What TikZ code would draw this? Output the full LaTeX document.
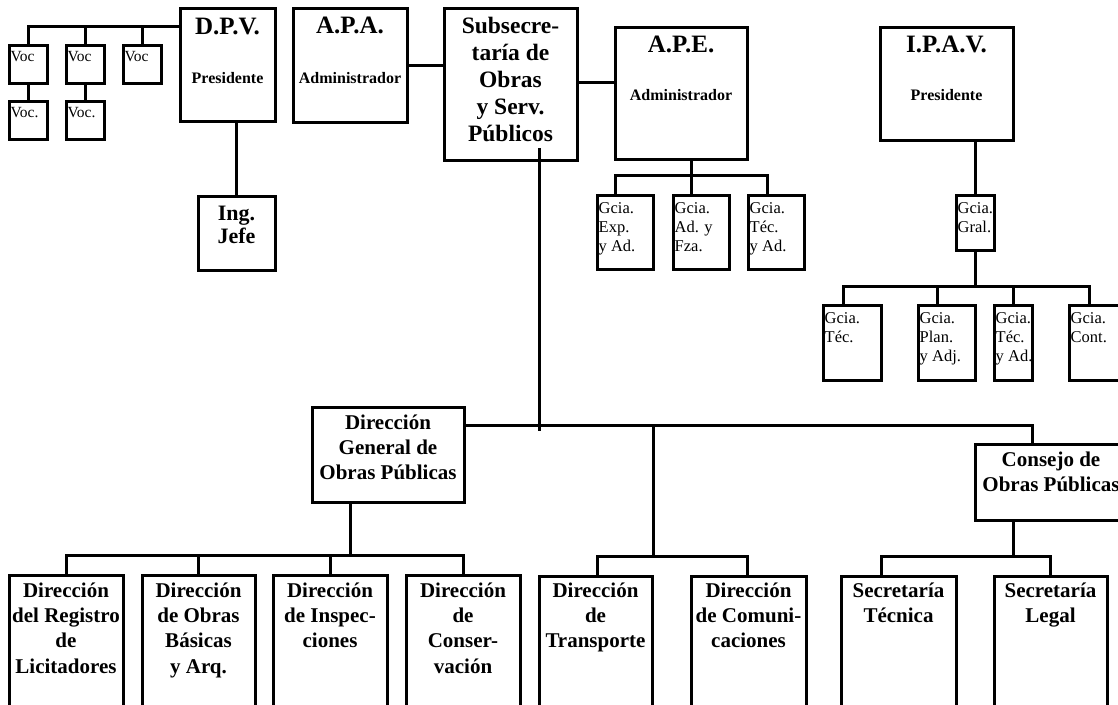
\documentclass[tikz,border=0pt]{standalone}
\usepackage{fontspec}
\setmainfont{Liberation Serif}
\tikzset{
  box/.style={draw, rectangle, line width=3pt, inner sep=0pt, outer sep=0pt},
  con/.style={line width=3pt},
  ttl/.style={font=\bfseries\fontsize{25}{27}\selectfont, align=center, inner sep=0pt, anchor=north, yshift=25pt},
  big/.style={font=\bfseries\fontsize{23.5}{27}\selectfont, align=center, inner sep=0pt, anchor=north, yshift=23.5pt},
  jef/.style={font=\bfseries\fontsize{22}{23.5}\selectfont, align=center, inner sep=0pt, anchor=north, yshift=22pt},
  mid/.style={font=\bfseries\fontsize{16}{19}\selectfont, align=center, inner sep=0pt, anchor=north, yshift=16pt},
  dir/.style={font=\bfseries\fontsize{21}{25.3}\selectfont, align=center, inner sep=0pt, anchor=north, yshift=21pt},
  sm/.style={font=\fontsize{16.5}{19}\selectfont, align=left, inner sep=0pt, anchor=north west, yshift=16.5pt},
  vc/.style={font=\fontsize{15.5}{17}\selectfont, align=left, inner sep=0pt, anchor=north west, yshift=15.5pt}
}
\newcommand{\orgbox}[5]{\node[box, minimum width={(#4)-(#2)}, minimum height={(#5)-(#3)}] (#1) at ({((#2)+(#4))/2},{((#3)+(#5))/2}) {};}
\newcommand{\tx}[5]{\node[#2] (#1) at (#3,#4) {\rule{0pt}{1em}#5};}
\begin{document}
\begin{tikzpicture}[x=1pt,y=-1pt]
\useasboundingbox (0,0) rectangle (1118,704);
\clip (0,0) rectangle (1118,704);
% boxes
\orgbox{v1}{9}{45}{47}{83}
\orgbox{v2}{66}{45}{104}{83}
\orgbox{v3}{123}{45}{161}{83}
\orgbox{v4}{9}{101}{47}{139}
\orgbox{v5}{66}{101}{104}{139}
\orgbox{dpv}{180}{8}{275}{121}
\orgbox{jefe}{198}{196}{275}{270}
\orgbox{apa}{293}{8}{407}{122}
\orgbox{sub}{444}{8}{577}{160}
\orgbox{ape}{615}{27}{747}{159}
\orgbox{g1}{597}{195}{653}{269}
\orgbox{g2}{673}{195}{729}{269}
\orgbox{g3}{748}{195}{804}{269}
\orgbox{ipav}{880}{27}{1013}{140}
\orgbox{gral}{956}{195}{994}{250}
\orgbox{i1}{823}{305}{881}{380}
\orgbox{i2}{918}{305}{975}{380}
\orgbox{i3}{994}{305}{1032}{380}
\orgbox{i4}{1069}{305}{1127}{380}
\orgbox{dgop}{312}{407}{464}{502}
\orgbox{cons}{975}{444}{1127}{520}
\orgbox{d1}{9}{575}{123}{715}
\orgbox{d2}{142}{575}{255}{715}
\orgbox{d3}{273}{575}{387}{715}
\orgbox{d4}{406}{575}{520}{715}
\orgbox{dt}{539}{576}{652}{715}
\orgbox{dc}{691}{576}{806}{715}
\orgbox{st}{841}{576}{956}{715}
\orgbox{sl}{994}{576}{1107}{715}
% connectors
\coordinate (vbus) at (28,26);
\draw[con] (v1.north) -- (vbus) -- (vbus -| dpv.west);
\draw[con] (v2.north) -- (v2.north |- vbus);
\draw[con] (v3.north) -- (v3.north |- vbus);
\draw[con] (v1.south) -- (v4.north);
\draw[con] (v2.south) -- (v5.north);
\draw[con] (jefe.north) -- (jefe.north |- dpv.south);
\draw[con] (apa.east) -- (apa.east -| sub.west);
\draw[con] ([yshift=2pt]sub.east) -- ([yshift=2pt]sub.east -| ape.west);
\coordinate (sv) at (539,148);
\coordinate (svb) at (539,431);
\draw[con] (sv) -- (svb);
\coordinate (cj) at (1032,425);
\draw[con] (dgop.east |- cj) -- (cj) -- (cj |- cons.north);
\coordinate (tb) at (653,556);
\draw[con] (tb |- cj) -- (tb);
\draw[con] ([xshift=1.5pt]dt.north) -- ++(0,-20) -| ([xshift=-1.5pt]dc.north);
\coordinate (dg) at (350,555);
\draw[con] (dg |- dgop.south) -- (dg);
\draw[con] (d1.north) -- ++(0,-20) -| (d4.north);
\draw[con] (d2.north) -- ++(0,-20);
\draw[con] (d3.north) -- ++(0,-20);
\coordinate (cd) at (1013,556);
\draw[con] (cd |- cons.south) -- (cd);
\draw[con] ([xshift=-17.5pt]st.north) -- ++(0,-20) -| ([xshift=-0.5pt]sl.north);
\coordinate (ad) at (691,175);
\draw[con] (ad |- ape.south) -- (ad);
\draw[con] ([xshift=18pt]g1.north west) -- ++(0,-20) -| ([xshift=19pt]g3.north west);
\draw[con] ([xshift=18pt]g2.north west) -- ++(0,-20);
\draw[con] (gral.north) -- (gral.north |- ipav.south);
\coordinate (ib) at (975,286);
\draw[con] (gral.south) -- (ib);
\draw[con] ([xshift=20pt]i1.north west) -- ++(0,-19) -| ([xshift=20pt]i4.north west);
\draw[con] ([xshift=19pt]i2.north west) -- ++(0,-19);
\draw[con] ([xshift=19pt]i3.north west) -- ++(0,-19);
% texts
\tx{v1t}{vc}{10.5}{61}{Voc}
\tx{v2t}{vc}{67.5}{61}{Voc}
\tx{v3t}{vc}{124.5}{61}{Voc}
\tx{v4t}{vc}{10.5}{117}{Voc.}
\tx{v5t}{vc}{67.5}{117}{Voc.}
\tx{dpvt}{ttl}{227.5}{34}{D.P.V.}
\tx{dpvp}{mid}{227.5}{83}{Presidente}
\tx{jefet}{jef}{236.5}{220}{Ing.\\Jefe}
\tx{apat}{ttl}{350}{33}{A.P.A.}
\tx{apaa}{mid}{350}{83}{Administrador}
\tx{subt}{big}{510.5}{33}{Subsecre-\\taría de\\Obras\\y Serv.\\Públicos}
\tx{apet}{ttl}{681}{52}{A.P.E.}
\tx{apea}{mid}{681}{100}{Administrador}
\tx{g1t}{sm}{598.5}{213}{Gcia.\\Exp.\\y Ad.}
\tx{g2t}{sm}{674.5}{213}{Gcia.\\Ad. y\\Fza.}
\tx{g3t}{sm}{749.5}{213}{Gcia.\\Téc.\\y Ad.}
\tx{ipavt}{ttl}{946.5}{52}{I.P.A.V.}
\tx{ipavp}{mid}{946.5}{100}{Presidente}
\tx{gralt}{sm}{957.5}{213}{Gcia.\\Gral.}
\tx{i1t}{sm}{824.5}{323}{Gcia.\\Téc.}
\tx{i2t}{sm}{919.5}{323}{Gcia.\\Plan.\\y Adj.}
\tx{i3t}{sm}{995.5}{323}{Gcia.\\Téc.\\y Ad.}
\tx{i4t}{sm}{1070.5}{323}{Gcia.\\Cont.}
\tx{dgopt}{dir}{388}{429}{Dirección\\General de\\Obras Públicas}
\tx{const}{dir}{1051}{466}{Consejo de\\Obras Públicas}
\tx{d1t}{dir}{66}{597}{Dirección\\del Registro\\de\\Licitadores}
\tx{d2t}{dir}{198.5}{597}{Dirección\\de Obras\\Básicas\\y Arq.}
\tx{d3t}{dir}{330}{597}{Dirección\\de Inspec-\\ciones}
\tx{d4t}{dir}{463}{597}{Dirección\\de\\Conser-\\vación}
\tx{dtt}{dir}{595.5}{597}{Dirección\\de\\Transporte}
\tx{dct}{dir}{748.5}{597}{Dirección\\de Comuni-\\caciones}
\tx{stt}{dir}{898.5}{597}{Secretaría\\Técnica}
\tx{slt}{dir}{1050.5}{597}{Secretaría\\Legal}
\end{tikzpicture}
\end{document}
